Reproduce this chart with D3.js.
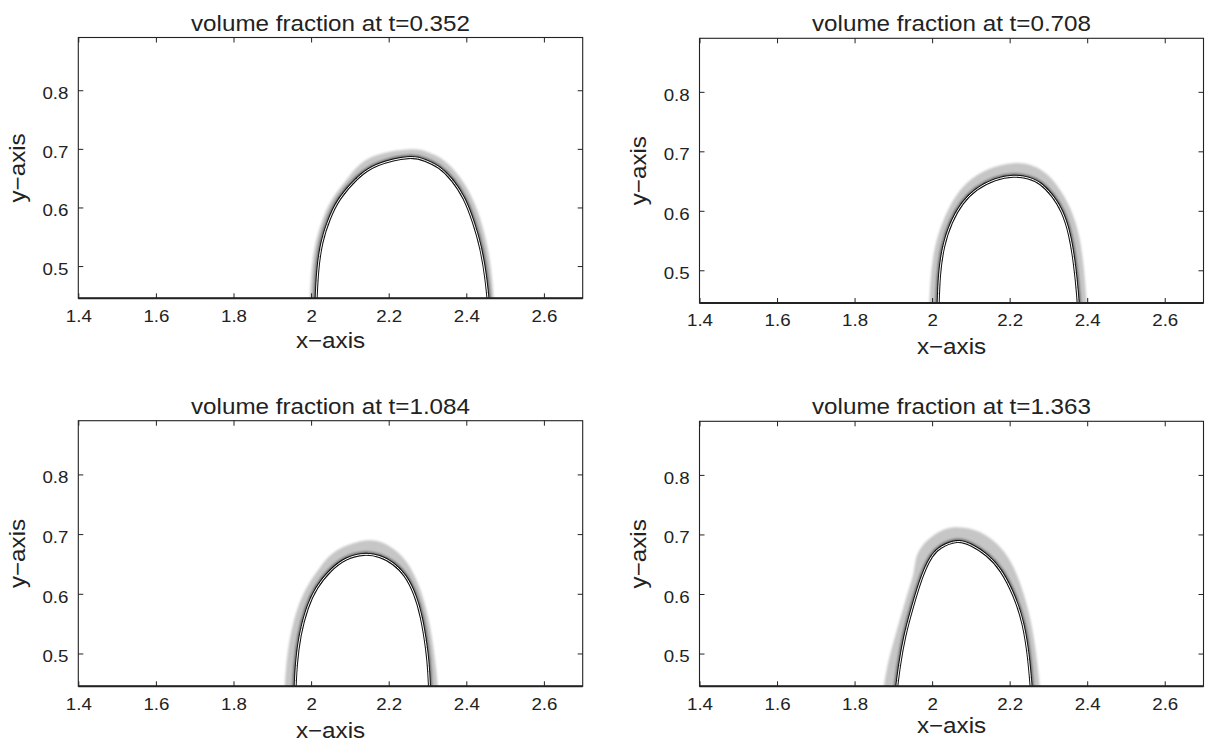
<!DOCTYPE html>
<html>
<head>
<meta charset="utf-8">
<script src="https://cdnjs.cloudflare.com/ajax/libs/d3/7.8.5/d3.min.js"></script>
<style>
    body { margin: 0; background: #fff; }
    text { font-family: "Liberation Sans", Arial, Helvetica, sans-serif; fill: #222; }
    .tick text { font-size: 17px; }
</style>
</head>
<body>
<div class="canvas"></div>
<script>
// data
const times = [0.352, 0.708, 1.084, 1.363];
const xTicks = [1.4, 1.6, 1.8, 2, 2.2, 2.4, 2.6];
const yTicks = [0.5, 0.6, 0.7, 0.8];
const xRange = [1.4, 2.7];
const yRange = [0.445, 0.89];
const xLabel = 'x\u2212axis';
const yLabel = 'y\u2212axis';

// innermost (black) contour and outer edge of the grey contour band, [x, y]
const inner0352 = [[2.012,0.43],[2.017,0.49],[2.028,0.54],[2.047,0.58],[2.074,0.615],[2.118,0.649],[2.173,0.673],[2.25,0.685],[2.295,0.680],[2.330,0.668],[2.364,0.646],[2.394,0.615],[2.418,0.575],[2.437,0.53],[2.450,0.48],[2.458,0.43]];
const outer0352 = [[1.996,0.43],[2.001,0.49],[2.012,0.54],[2.030,0.58],[2.055,0.615],[2.098,0.653],[2.156,0.686],[2.25,0.699],[2.302,0.694],[2.345,0.679],[2.383,0.652],[2.412,0.62],[2.436,0.58],[2.455,0.53],[2.466,0.48],[2.472,0.43]];

const inner0708 = [[2.015,0.43],[2.019,0.49],[2.030,0.54],[2.050,0.58],[2.078,0.612],[2.115,0.636],[2.162,0.652],[2.209,0.658],[2.248,0.655],[2.280,0.645],[2.310,0.625],[2.335,0.598],[2.354,0.56],[2.367,0.51],[2.375,0.46],[2.378,0.43]];
const outer0708 = [[1.992,0.43],[1.997,0.49],[2.008,0.54],[2.027,0.58],[2.055,0.618],[2.092,0.648],[2.145,0.670],[2.209,0.680],[2.262,0.675],[2.302,0.658],[2.335,0.630],[2.360,0.598],[2.378,0.56],[2.390,0.51],[2.397,0.46],[2.400,0.43]];

const inner1084 = [[1.958,0.43],[1.962,0.48],[1.972,0.53],[1.990,0.575],[2.015,0.610],[2.049,0.638],[2.090,0.658],[2.136,0.666],[2.178,0.662],[2.212,0.650],[2.242,0.630],[2.266,0.600],[2.284,0.56],[2.297,0.51],[2.303,0.47],[2.306,0.43]];
const outer1084 = [[1.931,0.43],[1.936,0.48],[1.947,0.53],[1.965,0.575],[1.990,0.612],[2.022,0.643],[2.065,0.672],[2.136,0.689],[2.19,0.684],[2.235,0.662],[2.268,0.628],[2.292,0.585],[2.309,0.535],[2.320,0.485],[2.325,0.455],[2.328,0.43]];

const inner1363 = [[1.906,0.43],[1.916,0.48],[1.930,0.53],[1.948,0.575],[1.965,0.612],[1.982,0.642],[1.999,0.663],[2.022,0.678],[2.063,0.688],[2.101,0.682],[2.141,0.665],[2.178,0.638],[2.210,0.598],[2.234,0.55],[2.249,0.49],[2.257,0.43]];
const outer1363 = [[1.872,0.43],[1.885,0.48],[1.905,0.53],[1.925,0.575],[1.942,0.612],[1.952,0.635],[1.957,0.655],[1.966,0.672],[1.986,0.689],[2.020,0.705],[2.058,0.712],[2.100,0.709],[2.140,0.698],[2.178,0.677],[2.210,0.645],[2.237,0.598],[2.257,0.545],[2.270,0.49],[2.280,0.43]];

const innerLines = [inner0352, inner0708, inner1084, inner1363];
const outerLines = [outer0352, outer0708, outer1084, outer1363];

// 1.
const svg = d3.select('.canvas')
    .append('svg')
        .attr('width', 1210)
        .attr('height', 744);

const defs = svg.append('defs');
defs.append('filter')
    .attr('id', 'soft')
    .append('feGaussianBlur')
        .attr('stdDeviation', 1.2);

// 2. where each of the four axes boxes sits
const panels = [
    {left: 78.3, top: 37.5, width: 504.4, height: 260.8, xLabelGap: 50},
    {left: 699.5, top: 38.3, width: 504, height: 264.7, xLabelGap: 51},
    {left: 78.3, top: 420.7, width: 504.4, height: 265.6, xLabelGap: 52},
    {left: 699.5, top: 421.3, width: 504, height: 265, xLabelGap: 47}
];

panels.forEach((p, i) => {

    // 3.
    const x = d3.scaleLinear()
        .domain(xRange)
        .range([0, p.width]);
    const y = d3.scaleLinear()
        .domain(yRange)
        .range([p.height, 0]);

    const graph = svg.append('g')
        .attr('transform', `translate(${p.left}, ${p.top})`);

    defs.append('clipPath')
        .attr('id', `clip${i}`)
        .append('rect')
            .attr('width', p.width)
            .attr('height', p.height);

    const line = d3.line()
        .x(d => x(d[0]))
        .y(d => y(d[1]))
        .curve(d3.curveNatural);

    // 4. contour band: soft grey outside, white drop with black double line
    const plot = graph.append('g')
        .attr('clip-path', `url(#clip${i})`);

    const halo = plot.append('g')
        .attr('filter', 'url(#soft)');
    halo.append('path')
        .attr('d', line(outerLines[i]) + 'Z')
        .attr('fill', '#c6c6c6');
    halo.append('path')
        .attr('d', line(innerLines[i]))
        .attr('fill', 'none')
        .attr('stroke', '#6a6a6a')
        .attr('stroke-width', 6);

    plot.append('path')
        .attr('d', line(innerLines[i]) + 'Z')
        .attr('fill', '#fff');
    plot.append('path')
        .attr('d', line(innerLines[i]))
        .attr('fill', 'none')
        .attr('stroke', '#111')
        .attr('stroke-width', 3);
    plot.append('path')
        .attr('d', line(innerLines[i]))
        .attr('fill', 'none')
        .attr('stroke', '#fff')
        .attr('stroke-width', 1);

    // 5. axes, ticks point inwards on all four sides
    const clean = g => {
        g.select('.domain').remove();
        g.attr('font-family', null).attr('font-size', null).attr('color', '#222');
    };

    graph.append('g')
        .attr('transform', `translate(0, ${p.height})`)
        .call(d3.axisBottom(x).tickValues(xTicks).tickSizeInner(-5).tickSizeOuter(0)
            .tickPadding(11.4).tickFormat(d => d))
        .call(clean)
        .selectAll('.tick text')
            .attr('transform', 'scale(1.1,1)');

    graph.append('g')
        .call(d3.axisLeft(y).tickValues(yTicks).tickSizeInner(-5).tickSizeOuter(0)
            .tickPadding(9).tickFormat(d => d))
        .call(clean)
        .selectAll('.tick text')
            .attr('dy', '0.49em')
            .attr('transform', 'scale(1.1,1)');

    graph.append('g')
        .call(d3.axisTop(x).tickValues(xTicks).tickSizeInner(-5).tickSizeOuter(0).tickFormat(''))
        .call(clean);

    graph.append('g')
        .attr('transform', `translate(${p.width}, 0)`)
        .call(d3.axisRight(y).tickValues(yTicks).tickSizeInner(-5).tickSizeOuter(0).tickFormat(''))
        .call(clean);

    // box
    graph.append('rect')
        .attr('width', p.width)
        .attr('height', p.height)
        .attr('fill', 'none')
        .attr('stroke', '#222')
        .attr('stroke-width', 1.1);
    graph.append('line')
        .attr('x1', 0)
        .attr('x2', p.width)
        .attr('y1', p.height)
        .attr('y2', p.height)
        .attr('stroke', '#222')
        .attr('stroke-width', 2);

    // 6. texts
    graph.append('text')
        .attr('transform', `translate(${p.width / 2}, -7) scale(1.1,1)`)
        .attr('text-anchor', 'middle')
        .style('font-size', '22px')
        .text(`volume fraction at t=${times[i].toFixed(3)}`);

    graph.append('text')
        .attr('transform', `translate(${p.width / 2}, ${p.height + p.xLabelGap}) scale(1.1,1)`)
        .attr('text-anchor', 'middle')
        .style('font-size', '22px')
        .text(xLabel);

    graph.append('text')
        .attr('transform', `translate(-53.5, ${p.height / 2}) rotate(-90) scale(1.1,1)`)
        .attr('text-anchor', 'middle')
        .style('font-size', '22px')
        .text(yLabel);
});

    /*
       1. svg the size of the figure, plus a small blur filter used
        for the soft grey contour band.
       2. four boxes.
       3. same x/y ranges in every box, so one pair of scales per box.
       4. the band is the outer contour filled grey and blurred, the
        inside of the drop is white and the interface is drawn as a
        thin black double line.
       5. matlab style box: inward ticks, labels only left and bottom.
       6. title, x and y labels.
    */
</script>
</body>
</html>
